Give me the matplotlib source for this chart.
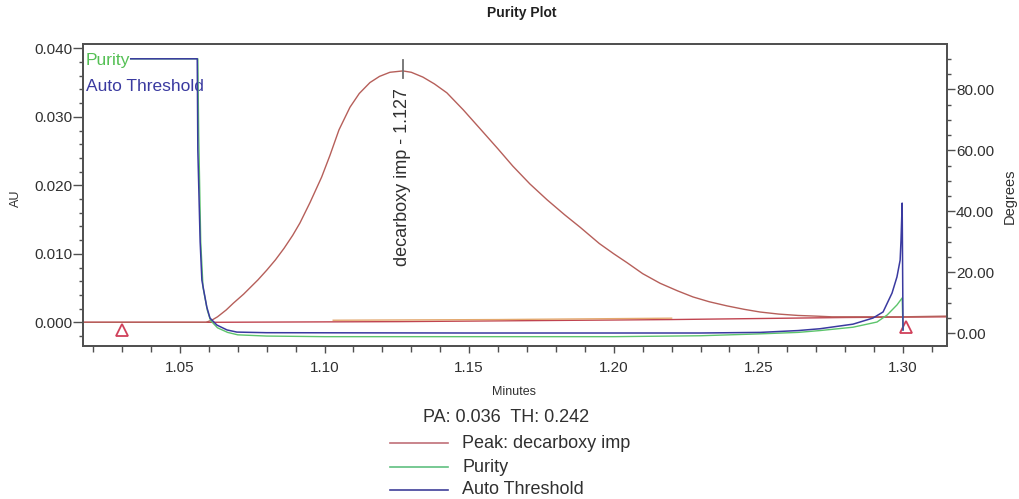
import matplotlib
matplotlib.use("Agg")
import matplotlib.pyplot as plt
from matplotlib.lines import Line2D
from matplotlib.ticker import MultipleLocator, FormatStrFormatter

plt.rcParams['font.family'] = ['Liberation Sans', 'DejaVu Sans']

# ---------------- data ----------------
# chromatogram of the peak (AU, left axis)
peak_t = [1.0165, 1.0590, 1.0610, 1.0630, 1.0660, 1.0685, 1.0720, 1.0770, 1.0800,
          1.0830, 1.0860, 1.0890, 1.0915, 1.0950, 1.0990, 1.1019, 1.1050, 1.1088,
          1.1120, 1.1157, 1.1190, 1.1226, 1.1271, 1.1300, 1.1340, 1.1380, 1.1423,
          1.1480, 1.1537, 1.1600, 1.1651, 1.1710, 1.1769, 1.1830, 1.1883, 1.1950,
          1.2000, 1.2046, 1.2100, 1.2160, 1.2220, 1.2274, 1.2330, 1.2391, 1.2450,
          1.2506, 1.2570, 1.2637, 1.2700, 1.2754, 1.2869, 1.3000, 1.3152]
peak_au = [0.0000, 0.0000, 0.0003, 0.0008, 0.0018, 0.0028, 0.0041, 0.0062, 0.0076,
           0.0091, 0.0108, 0.0127, 0.0145, 0.0175, 0.0212, 0.0244, 0.0281, 0.0314,
           0.0334, 0.0350, 0.0359, 0.0365, 0.0367, 0.0365, 0.0358, 0.0348, 0.0335,
           0.0310, 0.0283, 0.0253, 0.0228, 0.0202, 0.0179, 0.0157, 0.0139, 0.0115,
           0.0100, 0.0087, 0.0071, 0.0057, 0.0046, 0.0037, 0.0030, 0.0024, 0.0019,
           0.0015, 0.0012, 0.0010, 0.0009, 0.0008, 0.0008, 0.0008, 0.0009]

# baseline (AU)
base_t = [1.0165, 1.0600, 1.1260, 1.2200, 1.2800, 1.3152]
base_au = [0.0000, 0.0000, 0.0001, 0.0004, 0.0007, 0.0008]

# faint orange segment just above the baseline (AU)
orange_t = [1.1030, 1.1600, 1.2200]
orange_au = [0.0003, 0.0004, 0.0006]

# peak start / end markers (AU)
mark_t = [1.030, 1.301]
mark_au = [-0.0011, -0.0007]

# apex marker and label
apex_t = 1.127
apex_au = [0.0357, 0.0383]
apex_label = "decarboxy imp - 1.127"
apex_label_au = 0.0342

# auto threshold (degrees, right axis)
thr_t = [1.0330, 1.0560, 1.0562, 1.0570, 1.0576, 1.0593, 1.0604, 1.0628, 1.0663,
         1.0697, 1.0800, 1.1500, 1.2300, 1.2506, 1.2637, 1.2713, 1.2827, 1.2896,
         1.2931, 1.2962, 1.2979, 1.2990, 1.2993, 1.2997, 1.3000]
thr_deg = [90.0, 90.0, 60.0, 30.0, 17.4, 8.6, 5.0, 2.7, 1.1,
           0.4, 0.2, 0.1, 0.1, 0.3, 0.9, 1.5, 3.0, 5.0,
           7.0, 13.2, 18.5, 24.0, 30.5, 42.7, 1.1]

# purity angle (degrees, right axis)
pur_t = [1.0330, 1.0562, 1.0565, 1.0572, 1.0580, 1.0595, 1.0606, 1.0630, 1.0665,
         1.0700, 1.0800, 1.1000, 1.2000, 1.2300, 1.2500, 1.2637, 1.2713, 1.2827,
         1.2910, 1.2945, 1.2979, 1.2997, 1.3000]
pur_deg = [90.0, 90.0, 65.0, 30.0, 15.0, 7.5, 4.2, 1.8, 0.3,
           -0.5, -0.9, -1.1, -1.1, -0.8, -0.2, 0.3, 0.9, 2.0,
           3.7, 6.0, 9.3, 11.6, 1.1]

title = "Purity Plot"
x_label = "Minutes"
y_label = "AU"
y2_label = "Degrees"
info_text = "PA: 0.036  TH: 0.242"
legend_labels = ["Peak: decarboxy imp", "Purity", "Auto Threshold"]

# ---------------- styling ----------------
c_peak = "#b65f5a"
c_base = "#c04450"
c_orange = "#e3a86e"
c_thr = "#3a3aa0"
c_pur = "#5cc46c"
c_axis = "#505050"
c_text = "#303030"

fig = plt.figure(figsize=(10.19, 4.99), dpi=100)
ax = fig.add_axes([83 / 1019, 1 - 346 / 499, (947 - 83) / 1019, (346 - 44) / 499])
ax2 = ax.twinx()

ax.plot(base_t, base_au, color=c_base, lw=1.0, zorder=2)
ax.plot(orange_t, orange_au, color=c_orange, lw=1.0, zorder=2)
ax.plot(peak_t, peak_au, color=c_peak, lw=1.0, zorder=3)
ax.plot(mark_t, mark_au, linestyle="none", marker="^", ms=9, mfc="white",
        mec="#d0405a", mew=1.3, zorder=4)
ax.plot([apex_t, apex_t], apex_au, color="#707070", lw=1.3, zorder=4)
ax.text(apex_t, apex_label_au, apex_label, rotation=90, ha="center", va="top",
        fontsize=13, color=c_text)

ax2.plot(pur_t, pur_deg, color=c_pur, lw=1.0, zorder=2)
ax2.plot(thr_t, thr_deg, color=c_thr, lw=1.1, zorder=3)

ax.set_xlim(1.0165, 1.3152)
ax.set_ylim(-0.00346, 0.04063)
ax2.set_ylim(-4.16, 94.85)

ax.xaxis.set_major_locator(MultipleLocator(0.05))
ax.xaxis.set_minor_locator(MultipleLocator(0.01))
ax.xaxis.set_major_formatter(FormatStrFormatter("%.2f"))
ax.yaxis.set_major_locator(MultipleLocator(0.010))
ax.yaxis.set_minor_locator(MultipleLocator(0.002))
ax.yaxis.set_major_formatter(FormatStrFormatter("%.3f"))
ax2.yaxis.set_major_locator(MultipleLocator(20))
ax2.yaxis.set_minor_locator(MultipleLocator(5))
ax2.yaxis.set_major_formatter(FormatStrFormatter("%.2f"))

ax.tick_params(axis="x", which="major", length=5, width=1, pad=6, labelsize=11,
               colors=c_axis, labelcolor=c_text)
ax.tick_params(axis="x", which="minor", length=4, width=1, colors=c_axis)
ax.tick_params(axis="y", which="major", length=7, width=1, pad=0.5, labelsize=11,
               colors=c_axis, labelcolor=c_text)
ax.tick_params(axis="y", which="minor", length=3, width=1, colors=c_axis)
ax2.tick_params(axis="y", which="major", length=6, width=1, pad=0.5, labelsize=11,
                colors=c_axis, labelcolor=c_text)
ax2.tick_params(axis="y", which="minor", length=3, width=1, colors=c_axis)

for a in (ax, ax2):
    for s in a.spines.values():
        s.set_color(c_axis)
        s.set_linewidth(1.3)

ax.text(0.0035, 0.946, "Purity", transform=ax.transAxes, fontsize=12.5,
        color="#55c055", va="center", ha="left", zorder=5)
ax.text(0.0035, 0.860, "Auto Threshold", transform=ax.transAxes, fontsize=12.5,
        color=c_thr, va="center", ha="left", zorder=5)

fig.text(522 / 1019, 1 - 13 / 499, title, ha="center", va="center",
         fontsize=10, fontweight="bold", color="#202020")
fig.text(16 / 1019, 1 - 198 / 499, y_label, rotation=90, ha="center",
         va="center", fontsize=9, color=c_text)
fig.text(1010 / 1019, 1 - 196 / 499, y2_label, rotation=90, ha="center",
         va="center", fontsize=10.5, color=c_text)
fig.text(514 / 1019, 1 - 392 / 499, x_label, ha="center", va="center",
         fontsize=9, color=c_text)
fig.text(423 / 1019, 1 - 418 / 499, info_text, ha="left", va="center",
         fontsize=13, color=c_text)

leg_colors = ["#c07078", "#60c080", "#40409a"]
leg_y = [443, 467, 490]
for lab, col, yy in zip(legend_labels, leg_colors, leg_y):
    yf = 1 - yy / 499
    fig.add_artist(Line2D([390 / 1019, 448 / 1019], [yf, yf], color=col, lw=1.2))
    fig.text(462 / 1019, yf, lab, ha="left", va="center", fontsize=13, color=c_text)

fig.savefig("out.png", dpi=100, facecolor="white")
